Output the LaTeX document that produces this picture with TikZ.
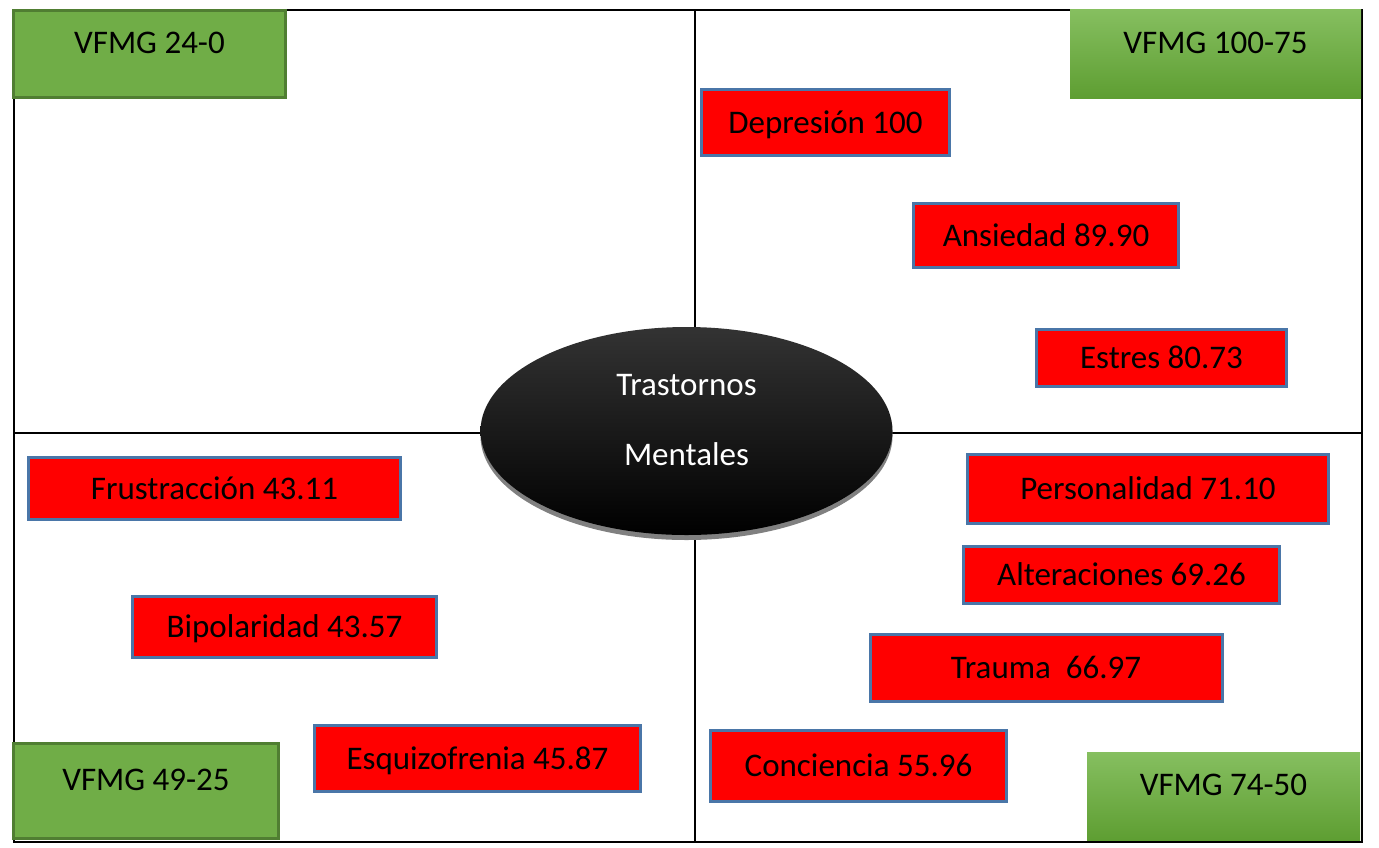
\documentclass[tikz,border=0pt]{standalone}
\usepackage{fontspec}
\setmainfont{Carlito}
\usetikzlibrary{shapes.geometric,shadows}

\definecolor{boxRed}{HTML}{FF0000}
\definecolor{boxBlue}{HTML}{4A76A8}
\definecolor{vfmgGreen}{HTML}{70AD47}
\definecolor{vfmgEdge}{HTML}{507E32}
\definecolor{vfmgTop}{HTML}{86BF60}
\definecolor{vfmgBottom}{HTML}{5E9E32}

\begin{document}
\begin{tikzpicture}[x=0.5pt, y=-0.5pt,
    font=\fontsize{16.5}{20}\selectfont,
    trastorno/.style={rectangle, draw=boxBlue, line width=1.5pt, fill=boxRed, inner sep=0pt, text height=10.6pt, text depth=0pt},
    vfmg/.style={rectangle, fill=vfmgGreen, draw=vfmgEdge, line width=1.5pt, inner sep=0pt, text height=10.6pt, text depth=11pt},
    vfmgshade/.style={rectangle, top color=vfmgTop, bottom color=vfmgBottom, inner sep=0pt, text height=10.6pt, text depth=11pt},
    frame/.style={draw=black, line width=1pt}]
    \useasboundingbox (0,0) rectangle (1379,847);

    \coordinate (nw) at (14,10);
    \coordinate (se) at (1362,842);
    \coordinate (midT) at (695,10);
    \coordinate (midB) at (695,842);
    \coordinate (midL) at (14,433);
    \coordinate (midR) at (1362,433);

    \draw[frame] (nw) rectangle (se);
    \draw[frame] (midT) -- (midB);
    \draw[frame] (midL) -- (midR);

    \node[ellipse, minimum width=206pt, minimum height=104pt, inner sep=0pt,
          top color=black!80, middle color=black, bottom color=black,
          drop shadow={shadow xshift=0pt, shadow yshift=-2.5pt, fill=black!50, opacity=1}] (core) at (686.5,431) {};
    \node[anchor=base, text=white] (coreTop) at (686.5,395) {Trastornos};
    \node[anchor=base, text=white] (coreBottom) at (686.5,465) {Mentales};

    \node[vfmg, minimum width=136pt, minimum height=43.5pt] (g1) at (149.5,54) {VFMG 24-0};
    \node[vfmgshade, minimum width=145.5pt, minimum height=44.5pt] (g2) at (1215.5,53.5) {VFMG 100-75};
    \node[vfmg, minimum width=132.5pt, minimum height=47.5pt] (g3) at (146,791) {VFMG 49-25};
    \node[vfmgshade, minimum width=136.5pt, minimum height=44pt] (g4) at (1223.5,796) {VFMG 74-50};

    \node[trastorno, minimum width=124pt, minimum height=33pt] (t1) at (825.5,122.5) {Depresión 100};
    \node[trastorno, minimum width=132.5pt, minimum height=32pt] (t2) at (1046,235.5) {Ansiedad 89.90};
    \node[trastorno, minimum width=125pt, minimum height=28.5pt] (t3) at (1161.5,358) {Estres 80.73};

    \node[trastorno, minimum width=180.5pt, minimum height=34.5pt] (t4) at (1148,489) {Personalidad 71.10};
    \node[trastorno, minimum width=158pt, minimum height=28.5pt] (t5) at (1121.5,575) {Alteraciones 69.26};
    \node[trastorno, minimum width=176pt, minimum height=33.5pt] (t6) at (1046,668) {Trauma\ \ 66.97};
    \node[trastorno, minimum width=148pt, minimum height=35.5pt] (t7) at (858.5,766) {Conciencia 55.96};

    \node[trastorno, minimum width=186pt, minimum height=31pt] (t8) at (214.5,488.5) {Frustracción 43.11};
    \node[trastorno, minimum width=152pt, minimum height=30.5pt] (t9) at (284.5,627) {Bipolaridad 43.57};
    \node[trastorno, minimum width=163pt, minimum height=33pt] (t10) at (477.5,758.5) {Esquizofrenia 45.87};
\end{tikzpicture}
\end{document}
